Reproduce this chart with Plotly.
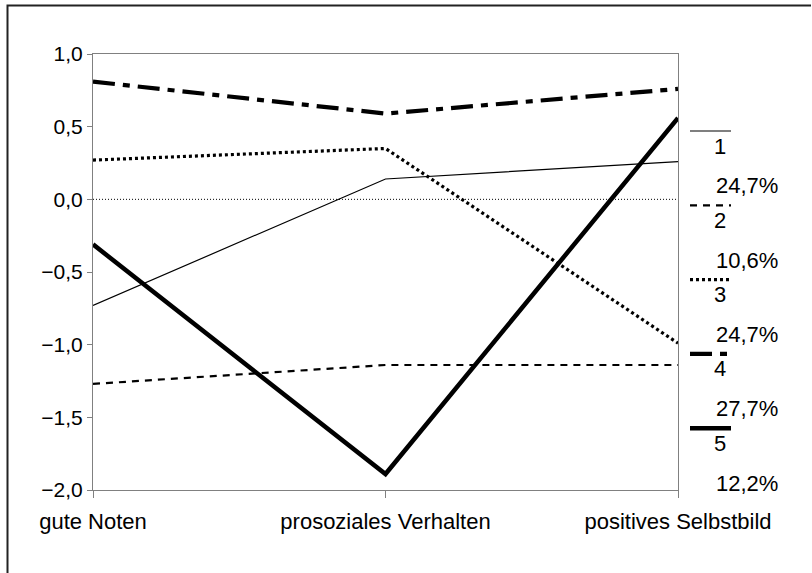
import plotly.graph_objects as go

categories = ["gute Noten", "prosoziales Verhalten", "positives Selbstbild"]
cluster_names = ["1", "2", "3", "4", "5"]
cluster_shares = ["24,7%", "10,6%", "24,7%", "27,7%", "12,2%"]
s1 = [-0.73, 0.14, 0.26]
s2 = [-1.27, -1.14, -1.14]
s3 = [0.27, 0.35, -0.99]
s4 = [0.81, 0.59, 0.76]
s5 = [-0.31, -1.89, 0.56]
series = [s1, s2, s3, s4, s5]
ytick_vals = [1.0, 0.5, 0.0, -0.5, -1.0, -1.5, -2.0]
ytick_text = ["1,0", "0,5", "0,0", "−0,5", "−1,0", "−1,5", "−2,0"]

styles = [
    dict(width=1.2, dash="solid"),
    dict(width=2.2, dash="7px,6px"),
    dict(width=3.2, dash="3px,3px"),
    dict(width=4.2, dash="22px,8px,7px,8px"),
    dict(width=4.5, dash="solid"),
]

W, H = 812, 573
L, R, T, B = 93, 134, 54, 83
pw, ph = W - L - R, H - T - B

def px(x):
    return (x - L) / pw

def py(y):
    return (H - B - y) / ph

fig = go.Figure()
xs = [0, 1, 2]
for vals, st, name in zip(series, styles, cluster_names):
    fig.add_trace(go.Scatter(x=xs, y=vals, mode="lines", name=name,
                             line=dict(color="black", width=st["width"], dash=st["dash"]),
                             showlegend=False, cliponaxis=False, hoverinfo="skip"))

shapes = []
# zero line
shapes.append(dict(type="line", xref="x", yref="y", x0=0, x1=2, y0=0, y1=0,
                   line=dict(color="black", width=1, dash="1px,2px"), layer="below"))
# outer frame (top and left)
shapes.append(dict(type="path", xref="paper", yref="paper",
                   path=f"M {px(7.5)} {py(580)} L {px(7.5)} {py(5.5)} L {px(811)} {py(5.5)}",
                   line=dict(color="#222222", width=2)))

annotations = []
line_y0 = 131
step = 74.3
for i, (name, share, st) in enumerate(zip(cluster_names, cluster_shares, styles)):
    yl = line_y0 + i * step
    shapes.append(dict(type="line", xref="paper", yref="paper",
                       x0=px(690), x1=px(731), y0=py(yl), y1=py(yl),
                       line=dict(color="black", width=st["width"], dash=st["dash"])))
    annotations.append(dict(xref="paper", yref="paper", x=px(720), y=py(yl + 15),
                            text=name, showarrow=False, xanchor="center", yanchor="middle",
                            font=dict(size=22, color="black", family="Liberation Sans, Arial")))
    annotations.append(dict(xref="paper", yref="paper", x=px(714), y=py(yl + 55),
                            text=share, showarrow=False, xanchor="left", yanchor="middle",
                            font=dict(size=22, color="black", family="Liberation Sans, Arial")))

fig.update_layout(
    width=W, height=H,
    margin=dict(l=L, r=R, t=T, b=B, pad=0),
    paper_bgcolor="white", plot_bgcolor="white",
    font=dict(family="Liberation Sans, Arial", size=22, color="black"),
    shapes=shapes, annotations=annotations,
    showlegend=False,
)
fig.update_xaxes(range=[0, 2], tickvals=xs, ticktext=categories,
                 showgrid=False, zeroline=False, showline=True, linecolor="#808080",
                 linewidth=1, mirror=True, ticks="outside", ticklen=7, tickcolor="#808080",
                 ticklabelstandoff=5, tickfont=dict(size=22))
fig.update_yaxes(range=[-2, 1], tickvals=ytick_vals, ticktext=ytick_text,
                 showgrid=False, zeroline=False, showline=True, linecolor="#808080",
                 linewidth=1, mirror=True, ticks="outside", ticklen=5, tickcolor="#808080",
                 tickfont=dict(size=21))

fig.write_html("out.html", config={"displayModeBar": False},
               post_script="document.body.style.margin='0';document.body.style.overflow='hidden';")
